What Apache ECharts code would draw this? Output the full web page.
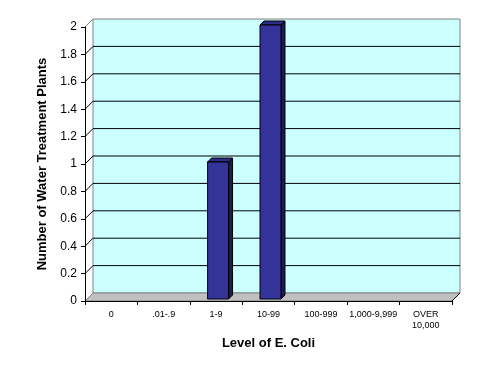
<!DOCTYPE html>
<html>
<head>
<meta charset="utf-8">
<script src="https://cdn.jsdelivr.net/npm/echarts@6/dist/echarts.min.js"></script>
<style>html,body{margin:0;padding:0;background:#fff}#c{width:491px;height:374px}</style>
</head>
<body>
<div id="c"></div>
<script>
var categories = ['0', '.01-.9', '1-9', '10-99', '100-999', '1,000-9,999', 'OVER\n10,000'];
var plants = [0, 0, 1, 2, 0, 0, 0];
var yMin = 0, yMax = 2, yStep = 0.2;
var xTitle = 'Level of E. Coli';
var yTitle = 'Number of Water Treatment Plants';

var FONT = 'Arial, "Liberation Sans", sans-serif';
var DEPTH = 8;

var chart = echarts.init(document.getElementById('c'), null, {renderer: 'canvas'});

function wallItem(params, api) {
  var cs = params.coordSys;
  var x0 = cs.x, x1 = cs.x + cs.width, yb = cs.y + cs.height, yt = cs.y;
  var children = [];
  // back wall
  children.push({type: 'rect', shape: {x: x0 + DEPTH, y: yt - DEPTH, width: cs.width, height: cs.height},
    style: {fill: '#ccffff', stroke: '#808080', lineWidth: 1}});
  // floor
  children.push({type: 'polygon', shape: {points: [[x0, yb], [x1, yb], [x1 + DEPTH, yb - DEPTH], [x0 + DEPTH, yb - DEPTH]]},
    style: {fill: '#c0c0c0', stroke: '#808080', lineWidth: 1}});
  // gridlines and left-wall diagonals
  for (var v = yMin + yStep; v <= yMax + 1e-9; v += yStep) {
    var y = api.coord([0, v])[1];
    var top = Math.abs(v - yMax) < 1e-9;
    if (!top) {
      children.push({type: 'line', shape: {x1: x0 + DEPTH, y1: y - DEPTH, x2: x1 + DEPTH, y2: y - DEPTH},
        style: {stroke: '#000', lineWidth: 1}});
    }
    children.push({type: 'line', shape: {x1: x0, y1: y, x2: x0 + DEPTH, y2: y - DEPTH},
      style: {stroke: top ? '#808080' : '#000', lineWidth: 1}});
  }
  children.push({type: 'line', shape: {x1: x1, y1: yb, x2: x1 + DEPTH, y2: yb - DEPTH},
    style: {stroke: '#000', lineWidth: 1}});
  return {type: 'group', children: children};
}

function barItem(params, api) {
  var v = api.value(1);
  if (!v) return null;
  var i = api.value(0);
  var c = api.coord([i, v]);
  var b = api.coord([i, 0]);
  var bw = api.size([1, 0])[0];
  var w = bw * 0.4;
  var off = 2, dd = 4;
  var x = c[0] - w / 2 + off;
  var top = c[1] - off, bot = b[1] - off;
  return {type: 'group', children: [
    {type: 'polygon', shape: {points: [[x + w, top], [x + w + dd, top - dd], [x + w + dd, bot - dd], [x + w, bot]]},
      style: {fill: '#1a1a55', stroke: '#000', lineWidth: 1}},
    {type: 'polygon', shape: {points: [[x, top], [x + dd, top - dd], [x + w + dd, top - dd], [x + w, top]]},
      style: {fill: '#2b2b88', stroke: '#000', lineWidth: 1}},
    {type: 'rect', shape: {x: x, y: top, width: w, height: bot - top},
      style: {fill: '#333399', stroke: '#000', lineWidth: 1}}
  ]};
}

chart.setOption({
  animation: false,
  backgroundColor: '#fff',
  grid: {left: 85, right: 39, top: 27, bottom: 73, containLabel: false},
  xAxis: {
    type: 'category', data: categories, z: 10,
    name: xTitle, nameLocation: 'middle', nameGap: 36,
    nameTextStyle: {fontFamily: FONT, fontSize: 13, fontWeight: 'bold', color: '#000'},
    axisLine: {show: true, lineStyle: {color: '#000', width: 1}},
    axisTick: {show: true, length: 4, interval: 0, lineStyle: {color: '#000'}},
    axisLabel: {interval: 0, margin: 8, fontFamily: FONT, fontSize: 9, color: '#000', lineHeight: 11},
    splitLine: {show: false}
  },
  yAxis: {
    type: 'value', min: yMin, max: yMax, interval: yStep, z: 10,
    name: yTitle, nameLocation: 'middle', nameGap: 35, nameRotate: 90,
    nameTextStyle: {fontFamily: FONT, fontSize: 13, fontWeight: 'bold', color: '#000'},
    axisLine: {show: true, lineStyle: {color: '#000', width: 1}},
    axisTick: {show: true, length: 4, lineStyle: {color: '#000'}},
    axisLabel: {margin: 8, fontFamily: FONT, fontSize: 12, color: '#000'},
    splitLine: {show: false}
  },
  series: [
    {type: 'custom', renderItem: wallItem, data: [[0, 0]], z: 1, silent: true, clip: false},
    {type: 'custom', renderItem: barItem, data: plants.map(function (v, i) { return [i, v]; }), z: 3, clip: false}
  ]
});
</script>
</body>
</html>
